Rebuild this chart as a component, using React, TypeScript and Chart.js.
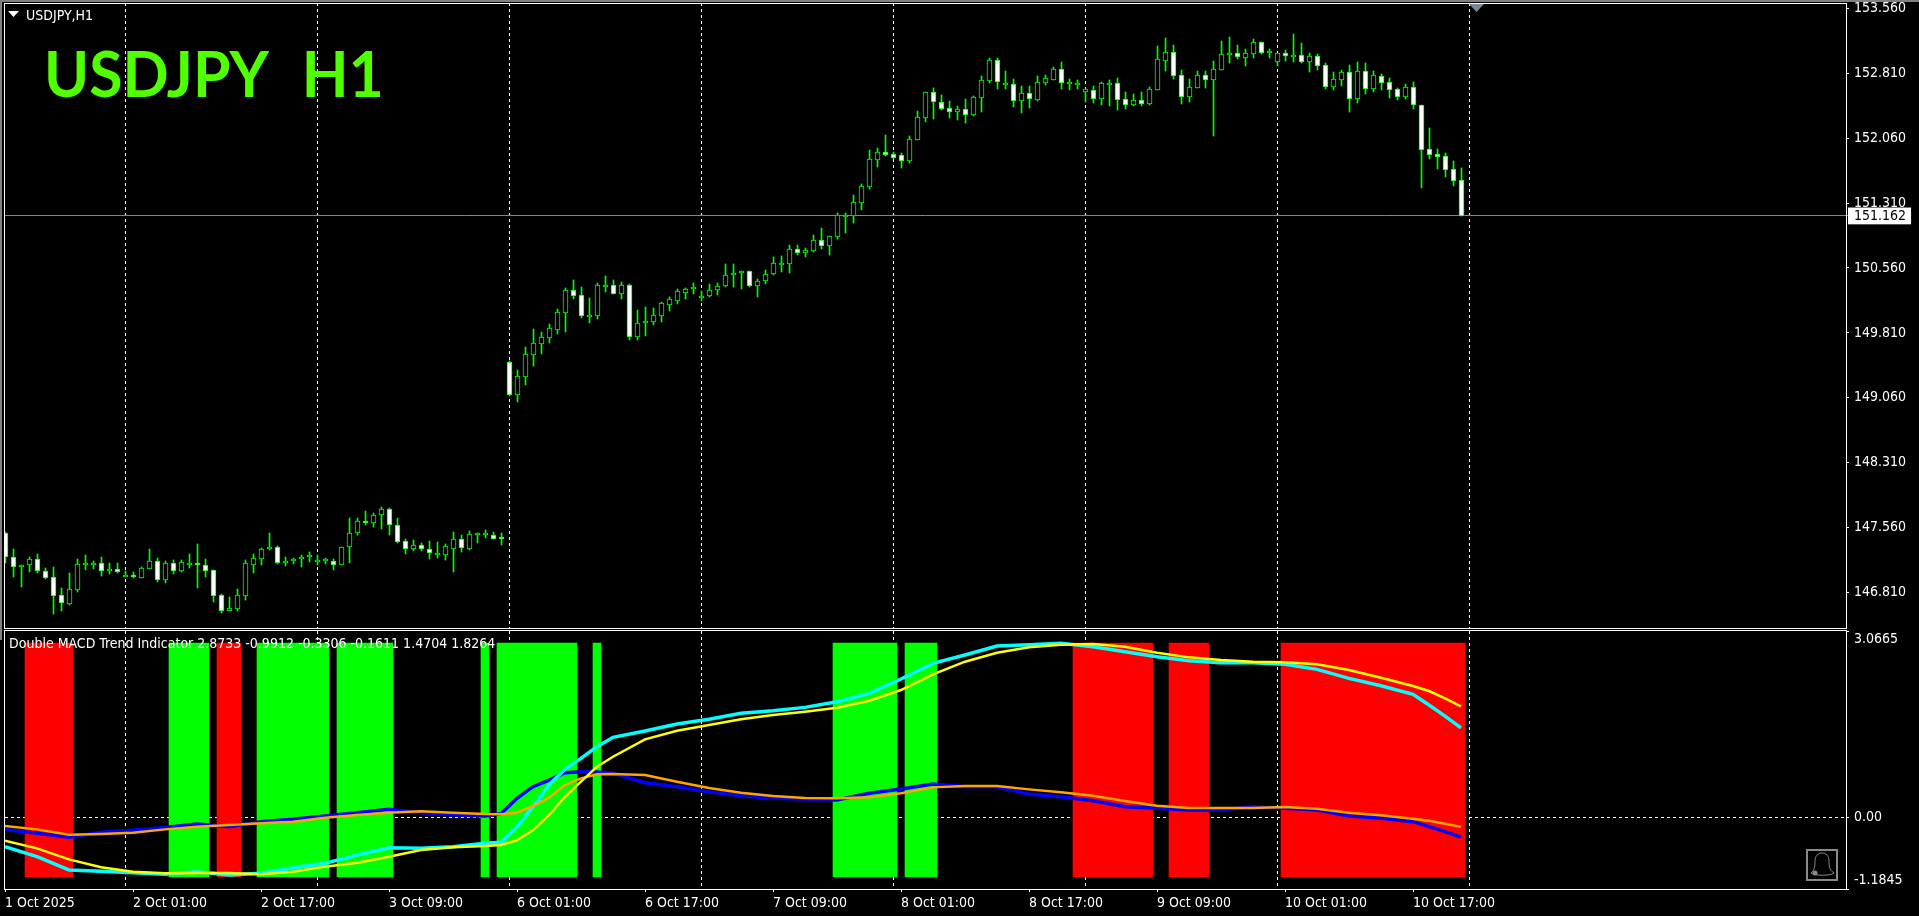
import React, { useEffect, useRef } from "react";
import { Chart, registerables } from "chart.js";

Chart.register(...registerables);

const opens = [
  147.492,147.215,147.099,147.130,147.192,147.053,146.984,146.776,146.675,146.841,
  147.130,147.138,147.145,147.076,147.076,147.003,147.014,146.980,147.084,147.169,
  146.957,147.145,147.057,147.145,147.145,147.130,147.065,146.776,146.598,146.621,
  146.772,147.130,147.199,147.307,147.330,147.145,147.169,147.192,147.223,147.169,
  147.180,147.169,147.130,147.338,147.492,147.631,147.608,147.700,147.770,147.585,
  147.400,147.307,147.354,147.307,147.246,147.246,147.307,147.423,147.315,147.488,
  147.481,147.477,147.454,149.469,149.095,149.303,149.558,149.685,149.754,149.847,
  150.043,150.302,150.244,150.009,150.009,150.356,150.359,150.259,150.359,149.766,
  149.920,149.939,150.009,150.136,150.182,150.275,150.313,150.221,150.232,150.302,
  150.348,150.475,150.498,150.521,150.348,150.406,150.487,150.610,150.606,150.776,
  150.734,150.760,150.880,150.818,150.922,151.165,151.165,151.315,151.500,151.813,
  151.897,151.874,151.863,151.800,152.043,152.297,152.590,152.475,152.405,152.359,
  152.394,152.332,152.529,152.725,152.960,152.683,152.683,152.494,152.579,152.506,
  152.702,152.737,152.856,152.694,152.683,152.598,152.621,152.517,152.694,152.694,
  152.509,152.448,152.498,152.459,152.621,152.956,153.053,152.787,152.540,152.644,
  152.787,152.737,152.852,153.026,153.041,152.991,153.037,153.168,153.064,152.945,
  153.041,153.018,153.018,152.945,153.007,152.902,152.656,152.737,152.822,152.517,
  152.833,152.633,152.775,152.706,152.625,152.540,152.648,152.440,151.931,151.873,
  151.850,151.700,151.574,
];
const highs = [
  147.512,147.307,147.130,147.215,147.253,147.088,147.099,146.860,147.030,147.196,
  147.242,147.172,147.215,147.149,147.149,147.061,147.041,147.099,147.307,147.203,
  147.169,147.184,147.184,147.253,147.369,147.192,147.065,146.791,146.752,146.845,
  147.184,147.253,147.323,147.496,147.346,147.215,147.203,147.242,147.273,147.238,
  147.203,147.192,147.330,147.670,147.670,147.747,147.724,147.793,147.781,147.670,
  147.423,147.411,147.377,147.404,147.392,147.365,147.508,147.469,147.515,147.492,
  147.527,147.504,147.492,149.481,149.381,149.646,149.855,149.820,149.912,150.082,
  150.325,150.421,150.340,150.213,150.386,150.467,150.421,150.398,150.375,150.074,
  150.109,150.097,150.167,150.225,150.317,150.329,150.386,150.290,150.375,150.386,
  150.606,150.606,150.521,150.521,150.433,150.537,150.687,150.699,150.822,150.822,
  150.791,150.942,151.023,150.930,151.196,151.196,151.404,151.531,151.924,151.948,
  152.098,151.905,151.886,152.085,152.374,152.590,152.637,152.559,152.490,152.428,
  152.513,152.548,152.775,152.983,152.983,152.837,152.741,152.664,152.664,152.779,
  152.791,152.883,152.941,152.741,152.733,152.625,152.664,152.714,152.733,152.756,
  152.594,152.571,152.594,152.652,153.126,153.219,153.138,152.849,152.744,152.837,
  152.837,152.949,153.184,153.230,153.138,153.091,153.207,153.168,153.091,153.041,
  153.080,153.265,153.161,153.045,153.034,152.929,152.825,152.845,152.906,152.941,
  152.929,152.837,152.802,152.756,152.640,152.683,152.710,152.440,152.178,151.931,
  151.889,151.796,151.716,
];
const lows = [
  147.145,146.991,146.876,147.045,147.038,146.964,146.560,146.598,146.668,146.814,
  147.068,147.076,146.999,147.022,147.034,146.991,146.976,146.976,147.080,146.933,
  146.922,147.022,147.049,147.092,146.860,146.991,146.698,146.575,146.594,146.598,
  146.722,147.038,147.126,147.304,147.138,147.115,147.138,147.103,147.161,147.130,
  147.138,147.068,147.126,147.153,147.477,147.593,147.566,147.542,147.477,147.384,
  147.257,147.288,147.292,147.199,147.207,147.184,147.049,147.277,147.304,147.381,
  147.442,147.427,147.361,149.084,149.011,149.211,149.431,149.566,149.697,149.797,
  149.820,150.205,149.982,149.928,149.970,150.282,150.255,150.201,149.727,149.727,
  149.774,149.901,149.936,150.063,150.144,150.201,150.259,150.182,150.228,150.248,
  150.344,150.340,150.317,150.344,150.225,150.375,150.483,150.514,150.502,150.710,
  150.691,150.745,150.780,150.710,150.895,150.969,151.080,151.231,151.473,151.728,
  151.859,151.820,151.720,151.777,152.043,152.251,152.286,152.390,152.297,152.274,
  152.240,152.317,152.363,152.702,152.629,152.629,152.421,152.351,152.409,152.490,
  152.675,152.733,152.629,152.617,152.629,152.482,152.467,152.444,152.432,152.386,
  152.398,152.432,152.432,152.444,152.621,152.837,152.744,152.455,152.479,152.644,
  152.640,152.085,152.849,152.929,152.976,152.895,152.987,153.034,152.987,152.895,
  152.953,152.941,152.929,152.825,152.849,152.629,152.617,152.664,152.363,152.467,
  152.571,152.594,152.617,152.525,152.506,152.513,152.398,151.488,151.820,151.704,
  151.611,151.507,151.162,
];
const closes = [
  147.215,147.107,147.130,147.192,147.053,146.980,146.772,146.683,146.845,147.134,
  147.145,147.145,147.061,147.080,147.049,147.011,146.984,147.088,147.169,146.957,
  147.145,147.061,147.157,147.153,147.130,147.061,146.772,146.598,146.625,146.776,
  147.145,147.203,147.307,147.330,147.145,147.169,147.192,147.215,147.238,147.180,
  147.192,147.130,147.330,147.492,147.631,147.608,147.700,147.770,147.585,147.396,
  147.307,147.354,147.307,147.261,147.261,147.342,147.423,147.319,147.481,147.492,
  147.492,147.431,147.431,149.095,149.307,149.562,149.689,149.758,149.862,150.047,
  150.302,150.240,150.009,150.013,150.359,150.359,150.263,150.359,149.766,149.920,
  149.943,150.013,150.151,150.198,150.290,150.313,150.336,150.232,150.302,150.348,
  150.475,150.498,150.521,150.348,150.406,150.487,150.614,150.618,150.776,150.737,
  150.764,150.880,150.818,150.926,151.169,151.169,151.319,151.504,151.816,151.897,
  151.870,151.836,151.801,152.047,152.301,152.590,152.475,152.401,152.359,152.394,
  152.332,152.532,152.729,152.960,152.714,152.694,152.494,152.579,152.509,152.706,
  152.752,152.856,152.702,152.706,152.694,152.625,152.517,152.694,152.698,152.506,
  152.448,152.498,152.459,152.625,152.972,153.053,152.783,152.540,152.648,152.787,
  152.737,152.856,153.030,153.041,152.995,153.041,153.168,153.049,153.068,153.041,
  153.014,153.022,152.945,153.007,152.899,152.656,152.741,152.822,152.517,152.833,
  152.633,152.787,152.702,152.621,152.540,152.648,152.448,151.927,151.870,151.846,
  151.696,151.569,151.162,
];

const priceTicks = [153.56, 152.81, 152.06, 151.31, 150.56, 149.81, 149.06, 148.31, 147.56, 146.81];
const lastPrice = 151.162;

const timeTickBars = [0, 16, 32, 48, 64, 80, 96, 112, 128, 144, 160, 176];
const timeTickLabels = [
  "1 Oct 2025", "2 Oct 01:00", "2 Oct 17:00", "3 Oct 09:00", "6 Oct 01:00", "6 Oct 17:00",
  "7 Oct 09:00", "8 Oct 01:00", "8 Oct 17:00", "9 Oct 09:00", "10 Oct 01:00", "10 Oct 17:00",
];
const gridBars = [15, 39, 63, 87, 111, 135, 159, 183];

const indicatorTicks = [3.0665, 0, -1.1845];
const histHigh = 2.8733;
const histLow = -0.9912;
const greenRanges = [[21, 25], [32, 40], [42, 48], [60, 60], [62, 71], [74, 74], [104, 111], [113, 116]];
const redRanges = [[3, 8], [27, 29], [134, 143], [146, 150], [160, 182]];

const lineBars = [
  0,4,8,12,16,20,24,28,32,36,40,44,48,52,56,60,62,64,66,68,70,72,74,76,80,84,88,92,96,100,
  104,108,112,116,120,124,128,132,136,140,144,148,152,156,160,164,168,172,176,178,180,182,
];
const blueLine = [
  -0.202,-0.267,-0.333,-0.251,-0.218,-0.169,-0.114,-0.158,-0.075,-0.037,0.018,0.073,0.128,0.073,0.035,0.018,
  0.057,0.309,0.501,0.611,0.732,0.748,0.743,0.721,0.567,0.501,0.419,0.353,0.315,0.293,0.282,0.392,0.463,0.545,
  0.501,0.501,0.381,0.337,0.271,0.172,0.144,0.117,0.117,0.172,0.144,0.117,0.018,-0.020,-0.075,-0.158,-0.240,-0.3306,
];
const orangeLine = [
  -0.147,-0.202,-0.289,-0.278,-0.256,-0.202,-0.158,-0.130,-0.103,-0.075,-0.009,0.035,0.073,0.095,0.073,0.051,
  0.046,0.073,0.183,0.320,0.529,0.639,0.705,0.710,0.694,0.584,0.479,0.403,0.348,0.315,0.309,0.326,0.392,0.490,
  0.512,0.512,0.457,0.408,0.353,0.265,0.188,0.150,0.150,0.150,0.166,0.139,0.073,0.029,-0.026,-0.059,-0.108,-0.1611,
];
const cyanLine = [
  -0.487,-0.652,-0.871,-0.893,-0.916,-0.943,-0.899,-0.954,-0.926,-0.833,-0.762,-0.624,-0.504,-0.515,-0.487,-0.432,
  -0.416,-0.158,0.172,0.529,0.792,0.968,1.160,1.314,1.418,1.534,1.611,1.710,1.753,1.808,1.902,2.039,2.275,2.533,
  2.670,2.819,2.841,2.863,2.808,2.726,2.643,2.577,2.544,2.544,2.517,2.434,2.286,2.165,2.022,1.846,1.665,1.4704,
];
const yellowLine = [
  -0.388,-0.515,-0.696,-0.827,-0.899,-0.926,-0.920,-0.920,-0.943,-0.899,-0.816,-0.751,-0.652,-0.542,-0.498,-0.476,
  -0.460,-0.377,-0.213,0.035,0.337,0.584,0.831,0.995,1.281,1.424,1.517,1.611,1.682,1.737,1.803,1.918,2.094,2.352,
  2.561,2.709,2.797,2.841,2.852,2.808,2.709,2.632,2.588,2.561,2.550,2.517,2.423,2.297,2.160,2.078,1.957,1.8264,
];

const FONT = '"DejaVu Sans Condensed","DejaVu Sans",sans-serif';
const TICK_FONT = { family: FONT, size: 14 };
const GREEN = "#00ff00";
const SLATE = "#778899";

const snapBars = {
  id: "snapBars",
  afterDatasetsUpdate(chart: any) {
    chart.getSortedVisibleDatasetMetas().forEach((meta: any) => {
      if (meta.type !== "bar") return;
      meta.data.forEach((el: any) => {
        const top = Math.round(Math.min(el.y, el.base));
        let bottom = Math.round(Math.max(el.y, el.base));
        if (bottom - top < 2) bottom = top + 2;
        el.y = top;
        el.base = bottom;
        el.height = bottom - top;
      });
    });
  },
};

function setTicks(values: number[]) {
  return (scale: any) => {
    scale.ticks = values.map((value) => ({ value }));
  };
}

function fitY(s: any) {
  s.width = 73;
  s.paddingTop = 0;
  s.paddingBottom = 0;
}

function gridAxis(min: number, max: number) {
  return {
    type: "linear",
    position: "bottom",
    min,
    max,
    offset: false,
    afterBuildTicks: setTicks(gridBars),
    afterFit: (s: any) => {
      s.height = 0;
      s.paddingLeft = 0;
      s.paddingRight = 0;
    },
    border: { display: false, dash: [3, 3] },
    ticks: { display: false, autoSkip: false },
    grid: { offset: false, color: "#ffffff", drawTicks: false },
  };
}

function expandRanges(ranges: number[][]) {
  const out: { x: number; y: number[] }[] = [];
  ranges.forEach(([a, b]) => {
    for (let i = a; i <= b; i++) out.push({ x: i, y: [histLow, histHigh] });
  });
  return out;
}

const lineDataset = (label: string, values: number[], color: string, width: number, order: number) => ({
  type: "line",
  label,
  data: lineBars.map((x, i) => ({ x, y: values[i] })),
  borderColor: color,
  borderWidth: width,
  pointRadius: 0,
  tension: 0,
  fill: false,
  order,
  borderCapStyle: "butt",
  xAxisID: "x",
  yAxisID: "y",
});

const abs = (left: number, top: number, extra: React.CSSProperties = {}): React.CSSProperties => ({
  position: "absolute",
  left,
  top,
  pointerEvents: "none",
  ...extra,
});

export default function App() {
  const priceRef = useRef<HTMLCanvasElement>(null);
  const indRef = useRef<HTMLCanvasElement>(null);

  useEffect(() => {
    document.body.style.margin = "0";
    document.body.style.background = "#000";
    document.documentElement.style.overflow = "hidden";

    const bars = closes.map((_, i) => i);
    // bar i is centred on pixel column 5 + 8i; the chart area runs 5..1846
    const xMinP = (5 - 5.5) / 8;
    const xMaxP = (1846 - 5.5) / 8;

    const priceChart = new Chart(priceRef.current as any, {
      type: "bar",
      data: {
        datasets: [
          {
            label: "Body",
            data: bars.map((i) => ({ x: i, y: [opens[i], closes[i]] })),
            backgroundColor: bars.map((i) => (closes[i] < opens[i] ? "#ffffff" : "#000000")),
            borderColor: GREEN,
            borderWidth: 1,
            borderSkipped: false,
            barThickness: 5,
            grouped: false,
            order: 1,
          },
          {
            label: "Wick",
            data: bars.map((i) => ({ x: i, y: [lows[i], highs[i]] })),
            backgroundColor: GREEN,
            borderWidth: 0,
            barThickness: 1,
            grouped: false,
            order: 2,
          },
        ],
      } as any,
      options: {
        responsive: false,
        animation: false,
        events: [],
        layout: { padding: { left: 5, top: 3, right: 0, bottom: 0 } },
        plugins: { legend: { display: false }, tooltip: { enabled: false } },
        scales: {
          x: gridAxis(xMinP, xMaxP),
          y: {
            position: "right",
            min: 146.398,
            max: 153.6236,
            afterBuildTicks: setTicks([...priceTicks, lastPrice]),
            afterFit: fitY,
            border: { display: false },
            grid: {
              color: (c: any) => (c.tick && c.tick.value === lastPrice ? SLATE : "transparent"),
              tickColor: (c: any) => (c.tick && c.tick.value === lastPrice ? SLATE : "#ffffff"),
              tickLength: 3,
            },
            ticks: {
              autoSkip: false,
              padding: 5,
              font: TICK_FONT,
              color: (c: any) => (c.tick && c.tick.value === lastPrice ? "#000000" : "#ffffff"),
              showLabelBackdrop: (c: any) => !!(c.tick && c.tick.value === lastPrice),
              backdropColor: "#ffffff",
              backdropPadding: { left: 6, right: 5, top: 0, bottom: 0 },
              callback: (v: any) => Number(v).toFixed(3),
            },
          },
        } as any,
      },
      plugins: [snapBars],
    } as any);

    const xMinI = 0;
    const xMaxI = (1846 - 5) / 8;

    const indChart = new Chart(indRef.current as any, {
      type: "bar",
      data: {
        datasets: [
          lineDataset("Yellow", yellowLine, "#ffff00", 2.5, 1),
          lineDataset("Orange", orangeLine, "#ffa500", 2.5, 2),
          lineDataset("Cyan", cyanLine, "#00ffff", 3.5, 3),
          lineDataset("Blue", blueLine, "#0000ff", 3.5, 4),
          {
            label: "Up",
            data: expandRanges(greenRanges),
            backgroundColor: GREEN,
            borderWidth: 0,
            barThickness: 8,
            grouped: false,
            order: 10,
          },
          {
            label: "Down",
            data: expandRanges(redRanges),
            backgroundColor: "#ff0000",
            borderWidth: 0,
            barThickness: 8,
            grouped: false,
            order: 11,
          },
        ],
      } as any,
      options: {
        responsive: false,
        animation: false,
        events: [],
        layout: { padding: { left: 5, top: 1, right: 0, bottom: 0 } },
        plugins: { legend: { display: false }, tooltip: { enabled: false } },
        scales: {
          x: {
            type: "linear",
            position: "bottom",
            min: xMinI,
            max: xMaxI,
            offset: false,
            afterBuildTicks: setTicks(timeTickBars),
            afterFit: (s: any) => {
              s.height = 27;
              s.paddingLeft = 0;
              s.paddingRight = 0;
            },
            border: { display: false },
            grid: { offset: false, drawOnChartArea: false, color: "#ffffff", tickLength: 3 },
            ticks: {
              autoSkip: false,
              maxRotation: 0,
              minRotation: 0,
              align: "start",
              padding: 3,
              color: "#ffffff",
              font: TICK_FONT,
              callback: (v: any) => timeTickLabels[timeTickBars.indexOf(Number(v))],
            },
          },
          xGrid: gridAxis(xMinI, xMaxI),
          y: {
            position: "right",
            min: indicatorTicks[2],
            max: indicatorTicks[0],
            afterBuildTicks: setTicks(indicatorTicks),
            afterFit: fitY,
            border: { display: false, dash: [3, 3] },
            grid: {
              color: (c: any) => (c.tick && c.tick.value === 0 ? "#ffffff" : "transparent"),
              tickColor: "#ffffff",
              tickLength: 3,
            },
            ticks: {
              autoSkip: false,
              padding: 5,
              color: "#ffffff",
              font: TICK_FONT,
              callback: (v: any) => {
                const n = Number(v);
                if (n === 0) return "0.00";
                // MT4 keeps the end labels inside the window: one blank line shifts them half a line
                return n > 0 ? ["", n.toFixed(4)] : [n.toFixed(4), ""];
              },
            },
          },
        } as any,
      },
      plugins: [snapBars],
    } as any);

    return () => {
      priceChart.destroy();
      indChart.destroy();
    };
  }, []);

  const textBase: React.CSSProperties = { color: "#fff", fontFamily: FONT, fontSize: 14, lineHeight: "16px", whiteSpace: "pre" };

  return (
    <div style={{ position: "relative", width: 1919, height: 916, background: "#000", overflow: "hidden" }}>
      <canvas ref={priceRef} width={1919} height={628} style={abs(0, 0, { display: "block" })} />
      <canvas ref={indRef} width={1919} height={286} style={abs(0, 630, { display: "block" })} />

      <div style={abs(0, 0, { width: 1919, height: 2, background: "#808080" })} />
      <div style={abs(0, 0, { width: 2, height: 640, background: "#808080" })} />
      <div style={abs(4, 3, { width: 1843, height: 626, boxSizing: "border-box", border: "1px solid #fff" })} />
      <div style={abs(4, 630, { width: 1843, height: 260, boxSizing: "border-box", border: "1px solid #fff" })} />

      <div style={abs(8, 11, { width: 11, height: 6, background: "#fff", clipPath: "polygon(0 0,100% 0,50% 100%)" })} />
      <div style={abs(26, 7, textBase)}>USDJPY,H1</div>
      <div
        style={abs(44, 35, {
          color: "#50ff00",
          fontFamily: "Lato, sans-serif",
          fontWeight: 700,
          fontSize: 64,
          lineHeight: "76px",
          whiteSpace: "pre",
          wordSpacing: 3,
          transform: "scaleX(0.95)",
          transformOrigin: "left center",
        })}
      >
        USDJPY  H1
      </div>
      <div style={abs(1469, 4, { width: 15, height: 8, background: SLATE, clipPath: "polygon(0 0,100% 0,50% 100%)" })} />
      <div style={abs(9, 635, textBase)}>Double MACD Trend Indicator 2.8733 -0.9912 -0.3306 -0.1611 1.4704 1.8264</div>

      <svg style={abs(1806, 849)} width={32} height={32} viewBox="0 0 32 32">
        <rect x={1} y={1} width={30} height={30} fill="#000" stroke="#8a8a8a" strokeWidth={2} />
        <path
          d="M5 24 C9 21 9 16 9 12 C9 7 12 4 16 4 C20 4 23 7 23 12 C23 16 23 21 28 24 C24 27 9 27 5 24 Z"
          fill="none"
          stroke="#8a8a8a"
          strokeWidth={1}
        />
        <circle cx={9} cy={24} r={2.5} fill="#8a8a8a" />
      </svg>
    </div>
  );
}
